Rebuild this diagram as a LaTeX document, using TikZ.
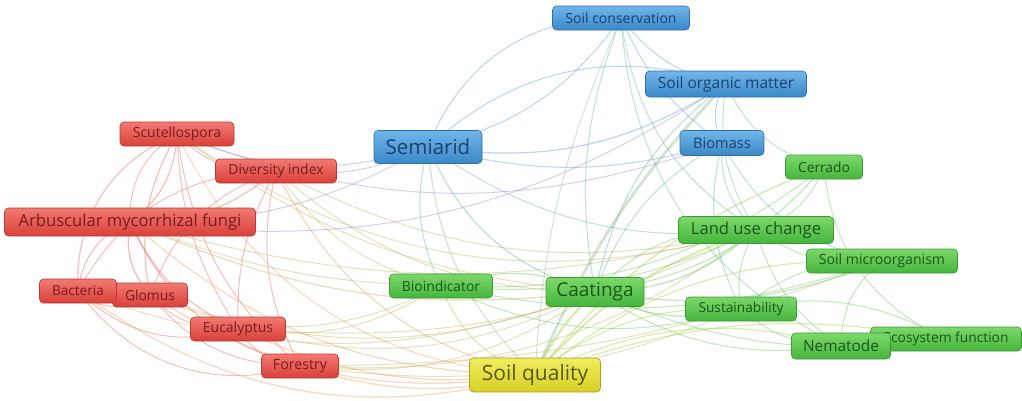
\documentclass[tikz,border=0pt]{standalone}
\usepackage{fontspec}
\setmainfont{Open Sans}
\usetikzlibrary{backgrounds}
\definecolor{rTop}{RGB}{242,122,114}\definecolor{rBot}{RGB}{217,64,58}\definecolor{rBrd}{RGB}{184,58,51}\definecolor{rTxt}{RGB}{120,28,28}
\definecolor{bTop}{RGB}{112,181,234}\definecolor{bBot}{RGB}{58,136,200}\definecolor{bBrd}{RGB}{47,111,168}\definecolor{bTxt}{RGB}{28,66,110}
\definecolor{gTop}{RGB}{124,216,106}\definecolor{gBot}{RGB}{69,181,60}\definecolor{gBrd}{RGB}{60,154,51}\definecolor{gTxt}{RGB}{26,86,26}
\definecolor{yTop}{RGB}{240,236,96}\definecolor{yBot}{RGB}{214,208,36}\definecolor{yBrd}{RGB}{168,163,30}\definecolor{yTxt}{RGB}{90,88,20}
\definecolor{eR}{RGB}{236,100,95}\definecolor{eB}{RGB}{90,155,215}\definecolor{eG}{RGB}{105,200,90}
\definecolor{eRY}{RGB}{240,160,90}\definecolor{eRG}{RGB}{195,180,100}\definecolor{eRB}{RGB}{160,140,200}
\definecolor{eBG}{RGB}{100,180,170}\definecolor{eGY}{RGB}{165,210,70}\definecolor{eBY}{RGB}{150,190,150}
\tikzset{
  kw/.style={rounded corners=4pt, inner sep=0pt, line width=0.6pt, anchor=center},
  redkw/.style={kw, top color=rTop, bottom color=rBot, draw=rBrd, text=rTxt},
  bluekw/.style={kw, top color=bTop, bottom color=bBot, draw=bBrd, text=bTxt},
  greenkw/.style={kw, top color=gTop, bottom color=gBot, draw=gBrd, text=gTxt},
  yelkw/.style={kw, top color=yTop, bottom color=yBot, draw=yBrd, text=yTxt},
  edge/.style={opacity=0.42, line cap=round},
}
\newcommand{\fs}[1]{\fontsize{#1}{#1}\selectfont}
\begin{document}
\begin{tikzpicture}[x=1pt,y=-1pt]
\useasboundingbox (0,0) rectangle (1022,400);
% nodes
\node[bluekw, minimum width=137, minimum height=24] (scons) at (621,18) {\fs{14}Soil conservation};
\node[bluekw, minimum width=161, minimum height=26] (som) at (726,84) {\fs{15.5}Soil organic matter};
\node[bluekw, minimum width=108, minimum height=33] (semi) at (428,147) {\fs{20.5}Semiarid};
\node[bluekw, minimum width=84, minimum height=25] (bio) at (722,143) {\fs{14.6}Biomass};
\node[redkw, minimum width=114, minimum height=24] (scut) at (177,134) {\fs{14}Scutellospora};
\node[redkw, minimum width=121, minimum height=24] (div) at (276,171) {\fs{13.9}Diversity index};
\node[redkw, minimum width=251, minimum height=28] (amf) at (130,222) {\fs{16.6}Arbuscular mycorrhizal fungi};
\node[greenkw, minimum width=77, minimum height=24] (cer) at (824,167) {\fs{13.8}Cerrado};
\node[greenkw, minimum width=155, minimum height=27] (luc) at (756,230) {\fs{16.6}Land use change};
\node[greenkw, minimum width=151, minimum height=24] (smic) at (882,261) {\fs{14.1}Soil microorganism};
\node[greenkw, minimum width=103, minimum height=24] (bind) at (441,286) {\fs{13.9}Bioindicator};
\node[greenkw, minimum width=98, minimum height=29] (caa) at (595,292) {\fs{19}Caatinga};
\node[redkw, minimum width=75, minimum height=24] (glo) at (150,295) {\fs{13.8}Glomus};
\node[redkw, minimum width=77, minimum height=24] (bac) at (78,291) {\fs{13.6}Bacteria};
\node[greenkw, minimum width=111, minimum height=24] (sus) at (741,309) {\fs{13.7}Sustainability};
\node[redkw, minimum width=95, minimum height=24] (euc) at (238,329) {\fs{14}Eucalyptus};
\node[greenkw, minimum width=151, minimum height=24] (eco) at (946,339) {\fs{13.8}Ecosystem function};
\node[greenkw, minimum width=99, minimum height=26] (nem) at (841,346) {\fs{15.4}Nematode};
\node[redkw, minimum width=77, minimum height=24] (fore) at (300,366) {\fs{14.2}Forestry};
\node[yelkw, minimum width=131, minimum height=34] (sq) at (535,375) {\fs{21}Soil quality};
% edges
\begin{scope}[on background layer]
\foreach \a/\b/\c/\w/\bd in {
 amf/scut/eR/1.2/25, amf/div/eR/1.2/20, amf/bac/eR/1.2/30, amf/glo/eR/1.4/25, amf/euc/eR/1.2/20, amf/fore/eR/1.2/25,
 scut/div/eR/1/25, scut/glo/eR/1.2/20, scut/bac/eR/1.2/35, scut/euc/eR/1/15, scut/fore/eR/1/20, scut/amf/eR/1/30,
 div/glo/eR/1/25, div/euc/eR/1/15, div/fore/eR/1/20, div/bac/eR/1/30,
 glo/euc/eR/1/25, glo/fore/eR/1/25, bac/euc/eR/1/30, bac/fore/eR/1/35, euc/fore/eR/1/25, bac/glo/eR/1/40,
 amf/sq/eRY/1.2/20, amf/caa/eRG/1.2/15, amf/semi/eRB/1/15, amf/bind/eRG/1/10, scut/caa/eRG/1/15, scut/semi/eRB/1/20,
 div/semi/eRB/1/15, div/caa/eRG/1/20, div/sq/eRY/1.2/25, glo/caa/eRG/1/20, glo/sq/eRY/1.2/20, bac/sq/eRY/1.2/25,
 euc/sq/eRY/1.2/15, euc/caa/eRG/1/20, fore/sq/eRY/1.2/15, fore/caa/eRG/1/20, fore/luc/eRG/1/20, euc/luc/eRG/1/15,
 bac/caa/eRG/1/20, fore/sus/eRG/1/15, scut/sq/eRY/1/30, amf/luc/eRG/1/15, div/luc/eRG/1/20, scut/luc/eRG/1/25,
 div/bind/eRG/1/20, glo/bind/eRG/1/25, euc/bind/eRG/1/20, amf/som/eRB/1/20, scut/bio/eRB/1/20, fore/smic/eRG/1/10,
 semi/scons/eB/1/20, semi/som/eB/1.2/20, semi/bio/eB/1/15, scons/som/eB/1/20, scons/bio/eB/1/15, som/bio/eB/1/30,
 scons/caa/eBG/1/15, scons/sq/eBY/1/10, som/caa/eBG/1.2/20, som/sq/eBY/3/10, som/luc/eBG/1/20, bio/caa/eBG/1/20,
 bio/luc/eBG/1/25, bio/sus/eBG/1/20, scons/luc/eBG/1/25, som/cer/eBG/1/25, semi/caa/eBG/1.2/25, semi/sq/eBY/1.2/20,
 semi/bind/eBG/1/20, scons/nem/eBG/1/30, semi/luc/eBG/1/20, bio/smic/eBG/1/25, scons/semi/eB/1/35, som/semi/eB/1/30,
 caa/luc/eG/1.4/20, caa/cer/eG/1.2/20, caa/smic/eG/1.2/15, caa/sus/eG/1.2/20, caa/nem/eG/1/20, caa/eco/eG/1/15,
 caa/bind/eG/1.2/20, caa/sq/eGY/2.5/10, luc/cer/eG/1/25, luc/smic/eG/1/20, luc/sus/eG/1/20, luc/nem/eG/1/20,
 luc/sq/eGY/2/15, cer/sq/eGY/1.5/15, cer/eco/eG/1/30, sus/nem/eG/1/20, sus/sq/eGY/1.2/20, smic/sus/eG/1/20,
 smic/nem/eG/1/25, smic/sq/eGY/1.2/20, bind/sq/eGY/1.2/25, bind/luc/eG/1/15, nem/sq/eGY/1.2/20, eco/sq/eGY/1.2/15,
 eco/sus/eG/1/20, bind/cer/eG/1/20, bind/smic/eG/1/15, bind/sus/eG/1/20, luc/caa/eG/1/25
}{
 \draw[edge, draw=\c, line width=\w pt] (\a.center) to[bend right=\bd] (\b.center);
}
\end{scope}
\end{tikzpicture}
\end{document}
